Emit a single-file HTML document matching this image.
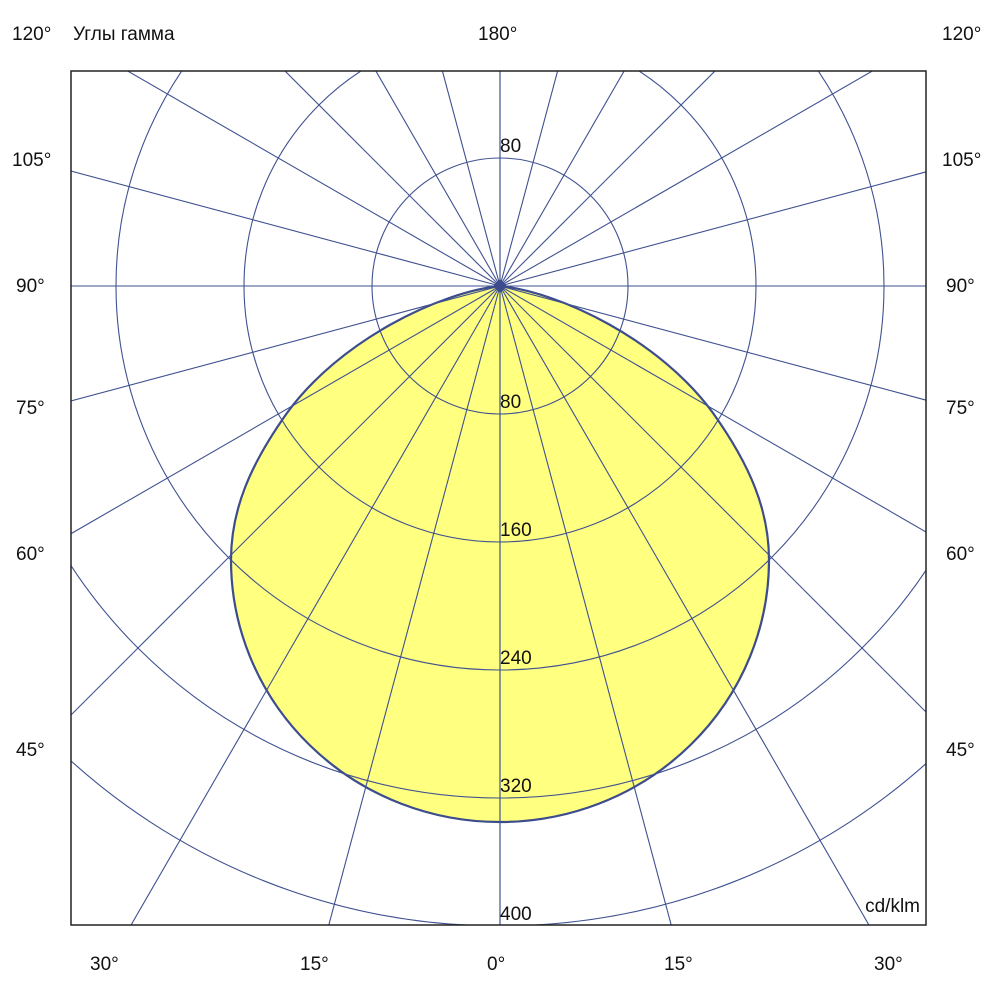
<!DOCTYPE html>
<html><head><meta charset="utf-8"><style>
html,body{margin:0;padding:0;background:#fff;width:1000px;height:1000px;overflow:hidden;}
svg{display:block;}
text{font-family:"Liberation Sans","DejaVu Sans",sans-serif;font-size:19px;fill:#111;}
</style></head><body>
<svg width="1000" height="1000" viewBox="0 0 1000 1000" xmlns="http://www.w3.org/2000/svg">
<defs><clipPath id="c"><rect x="71" y="71" width="855" height="854"/></clipPath></defs>
<g clip-path="url(#c)">
<path d="M500,286 C560,292 660,340 713,413 C750,465 769,510 769,560 A269,262 0 0 1 231,560 C231,510 250,465 287,413 C340,340 440,292 500,286 Z" fill="#ffff80" stroke="#3c4c8c" stroke-width="2.2" stroke-linejoin="round"/>
<g fill="none" stroke="#3f5190" stroke-width="1.1">
<circle cx="500" cy="286" r="128"/>
<circle cx="500" cy="286" r="256"/>
<circle cx="500" cy="286" r="384"/>
<circle cx="500" cy="286" r="512"/>
<circle cx="500" cy="286" r="640"/>
<g id="sp">
<line x1="500" y1="286" x2="500" y2="1286"/>
<line x1="500" y1="286" x2="758.8" y2="1252"/>
<line x1="500" y1="286" x2="1000" y2="1152"/>
<line x1="500" y1="286" x2="1207" y2="993"/>
<line x1="500" y1="286" x2="1366" y2="786"/>
<line x1="500" y1="286" x2="1466" y2="544.8"/>
<line x1="500" y1="286" x2="1500" y2="286"/>
<line x1="500" y1="286" x2="1466" y2="27.2"/>
<line x1="500" y1="286" x2="1366" y2="-214"/>
<line x1="500" y1="286" x2="1207" y2="-421"/>
<line x1="500" y1="286" x2="1000" y2="-580"/>
<line x1="500" y1="286" x2="758.8" y2="-680"/>
<line x1="500" y1="286" x2="500" y2="-714"/>
</g>
<use href="#sp" transform="translate(1000,0) scale(-1,1)"/>
</g>
<polygon points="500,279 507,286 500,293 493,286" fill="#3c4c8c"/>
</g>
<rect x="71" y="71" width="855" height="854" fill="none" stroke="#222" stroke-width="1.5"/>
<text x="500" y="152">80</text>
<text x="500" y="408">80</text>
<text x="500" y="536">160</text>
<text x="500" y="664">240</text>
<text x="500" y="792">320</text>
<text x="500" y="920">400</text>
<text x="920" y="912" text-anchor="end">cd/klm</text>
<text x="12" y="40">120°</text>
<text x="73" y="40">Углы гамма</text>
<text x="478" y="40">180°</text>
<text x="942" y="40">120°</text>
<text x="12" y="166">105°</text><text x="942" y="166">105°</text>
<text x="16" y="292">90°</text><text x="946" y="292">90°</text>
<text x="16" y="414">75°</text><text x="946" y="414">75°</text>
<text x="16" y="560">60°</text><text x="946" y="560">60°</text>
<text x="16" y="756">45°</text><text x="946" y="756">45°</text>
<text x="90" y="970">30°</text>
<text x="300" y="970">15°</text>
<text x="487" y="970">0°</text>
<text x="664" y="970">15°</text>
<text x="874" y="970">30°</text>
</svg>
</body></html>
